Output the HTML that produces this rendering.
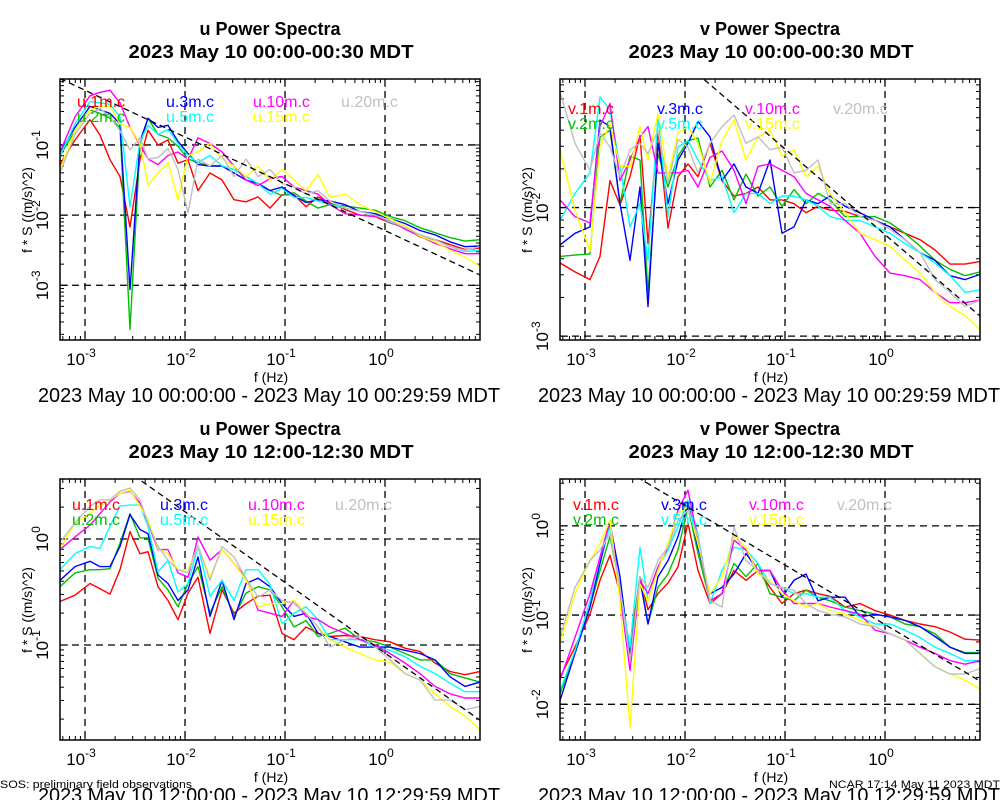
<!DOCTYPE html>
<html><head><meta charset="utf-8"><title>Power Spectra</title>
<style>
html,body{margin:0;padding:0;background:#fff;}
svg{display:block;font-family:"Liberation Sans",Arial,sans-serif;}
</style></head>
<body>
<svg id="fig" width="1000" height="800" viewBox="0 0 1000 800" xmlns="http://www.w3.org/2000/svg"></svg>
<script>
// ---- shared data ----
const logFreq = [-3.25,-3.10,-2.95,-2.85,-2.75,-2.65,-2.55,-2.45,-2.37,-2.27,-2.17,-2.07,-1.97,-1.87,-1.75,-1.63,-1.51,-1.39,-1.27,-1.15,-1.03,-0.91,-0.79,-0.67,-0.55,-0.40,-0.25,-0.10,0.05,0.20,0.35,0.50,0.65,0.80,0.95];
const heights = ["1m","2m","3m","5m","10m","15m","20m"];
const seriesKeys = ["1m","2m","3m","5m","10m","15m","20m"];
const seriesColors = {"1m":"#ff0000","2m":"#00c000","3m":"#0000ff","5m":"#00ffff","10m":"#ff00ff","15m":"#ffff00","20m":"#c0c0c0"};
const drawOrder = ["1m","2m","3m","5m","10m","15m","20m"];

// top-left: u 00:00-00:30 (log10 of f*S)
const uAm_1m  = [-1.28,-0.93,-0.64,-0.86,-1.21,-1.45,-2.17,-1.21,-0.79,-1.0,-0.93,-1.26,-1.21,-1.65,-1.4,-1.5,-1.78,-1.81,-1.74,-1.9,-1.71,-1.71,-1.88,-1.74,-1.83,-1.92,-2.0,-2.02,-2.11,-2.18,-2.31,-2.35,-2.42,-2.49,-2.47];
const uAm_2m  = [-1.15,-0.8,-0.5,-0.55,-0.62,-0.75,-3.63,-1.0,-0.62,-0.85,-0.9,-1.02,-1.2,-1.25,-1.3,-1.3,-1.35,-1.45,-1.55,-1.65,-1.72,-1.68,-1.8,-1.9,-1.85,-1.87,-1.9,-1.93,-2.02,-2.08,-2.18,-2.25,-2.32,-2.37,-2.35];
const uAm_3m  = [-1.1,-0.75,-0.45,-0.5,-0.55,-0.7,-3.06,-0.95,-0.62,-0.75,-0.72,-0.95,-1.12,-1.28,-1.3,-1.3,-1.4,-1.5,-1.55,-1.65,-1.6,-1.72,-1.82,-1.78,-1.8,-1.85,-1.95,-1.98,-2.05,-2.12,-2.22,-2.28,-2.38,-2.45,-2.44];
const uAm_5m  = [-1.15,-0.7,-0.38,-0.4,-0.42,-0.6,-1.88,-0.95,-0.72,-0.85,-0.78,-0.98,-1.15,-1.25,-1.15,-1.3,-1.35,-1.45,-1.55,-1.7,-1.62,-1.75,-1.75,-1.8,-1.85,-1.9,-1.95,-2.0,-2.1,-2.18,-2.28,-2.35,-2.45,-2.52,-2.5];
const uAm_10m = [-1.1,-0.6,-0.3,-0.25,-0.22,-0.4,-0.75,-1.0,-1.2,-1.28,-1.15,-1.1,-1.2,-0.9,-0.98,-1.1,-1.3,-1.5,-1.58,-1.48,-1.45,-1.6,-1.65,-1.7,-1.85,-1.98,-2.0,-2.02,-2.08,-2.2,-2.3,-2.4,-2.48,-2.55,-2.55];
const uAm_15m = [-1.35,-0.8,-0.5,-0.45,-0.45,-0.7,-0.75,-0.98,-1.57,-1.4,-1.25,-1.78,-1.15,-1.1,-0.98,-1.2,-1.3,-1.45,-1.3,-1.5,-1.35,-1.5,-1.65,-1.42,-1.75,-1.7,-1.85,-1.95,-2.05,-2.15,-2.3,-2.38,-2.5,-2.6,-2.73];
const uAm_20m = [-1.4,-0.85,-0.55,-0.48,-0.6,-0.8,-1.07,-0.9,-1.2,-1.18,-1.05,-1.35,-1.97,-1.2,-1.3,-1.15,-1.45,-1.2,-1.45,-1.35,-1.55,-1.6,-1.7,-1.65,-1.8,-1.9,-1.95,-2.0,-2.08,-2.18,-2.28,-2.35,-2.45,-2.5,-2.45];

// top-right: v 00:00-00:30
const vAm_1m  = [-2.43,-2.50,-2.56,-2.38,-1.79,-1.98,-1.76,-1.44,-2.28,-1.40,-2.16,-1.76,-1.66,-1.76,-1.50,-1.79,-1.91,-1.89,-1.84,-1.94,-1.94,-1.97,-2.04,-1.99,-2.02,-2.03,-2.07,-2.10,-2.15,-2.20,-2.25,-2.33,-2.44,-2.44,-2.42];
const vAm_2m  = [-2.38,-2.37,-2.36,-1.45,-1.40,-1.97,-1.60,-1.63,-2.66,-1.58,-1.84,-1.60,-1.48,-1.46,-1.84,-1.71,-1.94,-1.74,-1.91,-1.84,-1.99,-1.86,-1.97,-1.89,-1.94,-2.07,-2.07,-2.07,-2.12,-2.20,-2.30,-2.41,-2.48,-2.53,-2.50];
const vAm_3m  = [-2.29,-2.20,-2.15,-1.32,-1.37,-1.97,-2.41,-1.84,-2.77,-1.50,-1.97,-1.63,-1.50,-1.33,-1.45,-1.79,-1.66,-1.84,-1.89,-1.63,-2.20,-2.15,-1.94,-1.97,-1.91,-1.99,-2.04,-2.10,-2.15,-2.25,-2.35,-2.41,-2.53,-2.56,-2.52];
const vAm_5m  = [-2.10,-1.89,-1.73,-1.14,-1.24,-1.68,-2.15,-1.97,-2.41,-1.29,-2.07,-1.53,-1.48,-1.63,-1.79,-1.76,-2.04,-1.89,-1.89,-1.97,-1.91,-1.91,-1.94,-1.99,-2.07,-2.10,-2.10,-2.15,-2.20,-2.28,-2.35,-2.43,-2.53,-2.66,-2.64];
const vAm_10m = [-1.94,-2.07,-2.12,-1.37,-1.19,-1.79,-1.63,-1.45,-1.37,-1.73,-1.73,-1.73,-1.71,-1.84,-1.61,-1.56,-1.71,-1.97,-1.68,-1.66,-1.71,-1.76,-1.89,-1.94,-1.99,-2.10,-2.20,-2.38,-2.51,-2.53,-2.56,-2.66,-2.74,-2.74,-2.72];
const vAm_15m = [-1.55,-2.02,-2.34,-1.53,-1.35,-1.68,-1.68,-1.37,-1.63,-1.27,-1.76,-1.42,-1.37,-1.50,-1.81,-1.48,-1.32,-1.63,-1.45,-1.40,-1.60,-1.55,-1.76,-1.68,-1.89,-2.04,-2.20,-2.25,-2.30,-2.41,-2.51,-2.66,-2.77,-2.84,-2.95];
const vAm_20m = [-1.10,-1.50,-1.71,-1.42,-1.53,-1.76,-1.55,-1.50,-1.58,-1.40,-1.81,-1.47,-1.53,-1.73,-1.50,-1.37,-1.28,-1.50,-1.45,-1.55,-1.53,-1.73,-1.71,-1.63,-1.97,-1.97,-2.07,-2.10,-2.17,-2.25,-2.35,-2.56,-2.66,-2.77,-2.72];

// bottom-left: u 12:00-12:30
const uPm_1m  = [-0.59,-0.53,-0.42,-0.47,-0.52,-0.29,0.07,-0.14,-0.12,-0.45,-0.58,-0.76,-0.51,-0.36,-0.89,-0.48,-0.70,-0.61,-0.54,-0.53,-0.89,-0.95,-0.83,-0.89,-0.92,-0.91,-0.92,-0.95,-0.97,-1.03,-1.06,-1.17,-1.25,-1.28,-1.25];
const uPm_2m  = [-0.45,-0.32,-0.29,-0.29,-0.28,-0.04,0.24,0.01,0.01,-0.37,-0.48,-0.64,-0.42,-0.26,-0.70,-0.45,-0.73,-0.51,-0.45,-0.48,-0.64,-0.83,-0.77,-0.92,-0.89,-0.84,-0.95,-0.97,-1.02,-1.08,-1.14,-1.14,-1.27,-1.31,-1.35];
const uPm_3m  = [-0.39,-0.26,-0.21,-0.26,-0.26,-0.07,0.23,0.09,0.05,-0.34,-0.42,-0.58,-0.48,-0.17,-0.73,-0.39,-0.76,-0.42,-0.37,-0.45,-0.61,-0.73,-0.70,-0.89,-0.92,-0.97,-1.02,-1.02,-1.02,-1.05,-1.08,-1.14,-1.30,-1.39,-1.35];
const uPm_5m  = [-0.29,-0.14,-0.07,-0.09,0.12,0.31,0.32,0.32,0.12,-0.31,-0.20,-0.50,-0.42,-0.07,-0.54,-0.39,-0.58,-0.29,-0.29,-0.43,-0.80,-0.70,-0.64,-0.76,-0.95,-0.95,-0.95,-1.02,-1.05,-1.11,-1.20,-1.27,-1.36,-1.44,-1.44];
const uPm_10m = [-0.10,0.02,0.13,0.24,0.35,0.43,0.45,0.34,0.15,-0.10,-0.10,-0.32,-0.36,0.02,-0.20,-0.10,-0.23,-0.37,-0.67,-0.70,-0.73,-0.58,-0.73,-0.76,-0.83,-0.89,-0.95,-1.00,-1.08,-1.17,-1.27,-1.39,-1.46,-1.50,-1.50];
const uPm_15m = [-0.09,0.15,0.24,0.32,0.37,0.43,0.46,0.31,0.18,-0.09,-0.14,-0.29,-0.29,-0.07,-0.36,-0.10,-0.23,-0.39,-0.64,-0.61,-0.61,-0.58,-0.70,-0.83,-0.95,-1.02,-1.08,-1.14,-1.16,-1.27,-1.33,-1.46,-1.58,-1.67,-1.80];
const uPm_20m = [-0.03,0.15,0.31,0.37,0.37,0.45,0.48,0.37,0.15,-0.07,-0.20,-0.29,-0.32,-0.06,-0.39,-0.07,-0.17,-0.37,-0.55,-0.48,-0.58,-0.61,-0.70,-0.83,-1.02,-0.95,-0.92,-1.02,-1.14,-1.27,-1.33,-1.52,-1.52,-1.61,-1.58];

// bottom-right: v 12:00-12:30
const vPm_1m  = [-1.70,-1.36,-0.99,-0.61,-0.33,-0.76,-1.36,-0.57,-0.94,-0.76,-0.64,-0.46,0.03,-0.50,-0.87,-0.76,-0.50,-0.61,-0.50,-0.69,-0.87,-0.76,-0.72,-0.76,-0.79,-0.91,-0.87,-0.95,-1.00,-1.06,-1.10,-1.13,-1.19,-1.27,-1.28];
const vPm_2m  = [-1.88,-1.43,-0.91,-0.50,-0.12,-0.69,-1.43,-0.57,-1.10,-0.69,-0.54,-0.27,0.21,-0.31,-0.84,-0.76,-0.42,-0.57,-0.42,-0.76,-0.80,-0.84,-0.72,-0.80,-0.84,-0.91,-0.95,-0.99,-1.02,-1.10,-1.13,-1.21,-1.36,-1.42,-1.42];
const vPm_3m  = [-1.96,-1.43,-0.91,-0.42,0.03,-0.57,-1.47,-0.61,-1.10,-0.57,-0.39,-0.12,0.25,-0.24,-0.76,-0.69,-0.54,-0.31,-0.50,-0.50,-0.80,-0.61,-0.54,-0.84,-0.80,-0.80,-1.02,-0.99,-1.02,-1.06,-1.13,-1.24,-1.36,-1.43,-1.43];
const vPm_5m  = [-1.85,-1.40,-0.84,-0.35,-0.01,-0.72,-1.36,-0.24,-0.84,-0.46,-0.27,-0.01,0.29,-0.09,-0.87,-0.50,-0.24,-0.27,-0.42,-0.65,-0.69,-0.76,-0.76,-0.80,-0.80,-0.95,-1.02,-1.10,-1.10,-1.17,-1.25,-1.36,-1.43,-1.51,-1.51];
const vPm_10m = [-1.73,-1.25,-0.76,-0.35,0.06,-0.76,-1.62,-0.61,-0.76,-0.46,-0.24,0.18,0.40,-0.16,-0.84,-0.76,-0.16,-0.27,-0.50,-0.50,-0.72,-0.87,-0.87,-0.87,-0.91,-0.95,-0.99,-1.17,-1.21,-1.28,-1.36,-1.43,-1.51,-1.55,-1.51];
const vPm_15m = [-1.32,-0.76,-0.39,-0.20,0.06,-0.84,-2.26,-0.65,-0.84,-0.50,-0.20,0.14,0.21,-0.20,-0.76,-0.57,-0.12,-0.24,-0.54,-0.61,-0.76,-0.84,-0.91,-0.87,-0.95,-0.99,-1.06,-1.13,-1.21,-1.28,-1.43,-1.58,-1.66,-1.73,-1.83];
const vPm_20m = [-1.25,-0.69,-0.39,-0.27,-0.09,-0.69,-1.51,-0.57,-0.69,-0.39,-0.24,0.06,0.18,-0.12,-0.84,-0.91,-0.01,-0.39,-0.50,-0.65,-0.69,-0.72,-0.87,-0.95,-0.99,-1.02,-1.10,-1.13,-1.21,-1.28,-1.43,-1.58,-1.66,-1.66,-1.60];

// reference -2/3 slope line: log10 value at f = 1 Hz
const refAtOneHz = [-2.22, -2.21, -1.076, -1.106];
const refSlope = -2/3;
const xDecades = [-3, -2, -1, 0];
const yDecadesTL = [-1, -2, -3];
const yDecadesTR = [-2, -3];
const yDecadesBL = [0, -1];
const yDecadesBR = [0, -1, -2];
const titlesTop = ["u Power Spectra", "v Power Spectra", "u Power Spectra", "v Power Spectra"];
const titlesSub = ["2023 May 10 00:00-00:30 MDT", "2023 May 10 00:00-00:30 MDT", "2023 May 10 12:00-12:30 MDT", "2023 May 10 12:00-12:30 MDT"];
const dateLines = ["2023 May 10 00:00:00 - 2023 May 10 00:29:59 MDT", "2023 May 10 00:00:00 - 2023 May 10 00:29:59 MDT", "2023 May 10 12:00:00 - 2023 May 10 12:29:59 MDT", "2023 May 10 12:00:00 - 2023 May 10 12:29:59 MDT"];

const NS = "http://www.w3.org/2000/svg";
const svg = document.getElementById("fig");
function mk(tag, attrs, parent) {
  const e = document.createElementNS(NS, tag);
  for (const k in attrs) e.setAttribute(k, attrs[k]);
  (parent || svg).appendChild(e);
  return e;
}

const panels = [
  {comp:"u", name:"u-am", dx:0,   y0:79,  y1:340, ymin:-3.78, ymax:-0.06, yd:yDecadesTL, data:{"1m":uAm_1m,"2m":uAm_2m,"3m":uAm_3m,"5m":uAm_5m,"10m":uAm_10m,"15m":uAm_15m,"20m":uAm_20m}, leg:{x:[77,166,253,341], y:[107,122]}},
  {comp:"v", name:"v-am", dx:500, y0:79,  y1:340, ymin:-3.03, ymax:-1.0,  yd:yDecadesTR, data:{"1m":vAm_1m,"2m":vAm_2m,"3m":vAm_3m,"5m":vAm_5m,"10m":vAm_10m,"15m":vAm_15m,"20m":vAm_20m}, leg:{x:[68,157,245,333], y:[114,129]}},
  {comp:"u", name:"u-pm", dx:0,   y0:479, y1:740, ymin:-1.896,ymax:0.566, yd:yDecadesBL, data:{"1m":uPm_1m,"2m":uPm_2m,"3m":uPm_3m,"5m":uPm_5m,"10m":uPm_10m,"15m":uPm_15m,"20m":uPm_20m}, leg:{x:[72,160,248,335], y:[510,525]}},
  {comp:"v", name:"v-pm", dx:500, y0:479, y1:740, ymin:-2.40, ymax:0.525, yd:yDecadesBR, data:{"1m":vPm_1m,"2m":vPm_2m,"3m":vPm_3m,"5m":vPm_5m,"10m":vPm_10m,"15m":vPm_15m,"20m":vPm_20m}, leg:{x:[73,161,249,337], y:[510,525]}}
];
const XMIN = -3.25, XMAX = 0.95;
// legend layout: [key, col, row]
const legendLayout = [["1m",0,0],["2m",0,1],["3m",1,0],["5m",1,1],["10m",2,0],["15m",2,1],["20m",3,0]];

panels.forEach((p, pi) => {
  const X0 = 60 + p.dx, X1 = 480 + p.dx;
  const sx = lf => X0 + (lf - XMIN) / (XMAX - XMIN) * (X1 - X0);
  const sy = lv => p.y1 - (lv - p.ymin) / (p.ymax - p.ymin) * (p.y1 - p.y0);
  const g = mk("g", {});
  
  
  const cx = 270 + p.dx;
  const topOff = p.y0 - 79;

  const t1 = mk("text", {x:cx, y:35+topOff, "text-anchor":"middle", "font-size":"18", "font-weight":"bold"}, g);
  t1.textContent = titlesTop[pi];
  
  
  const t2 = mk("text", {x:cx+1, y:58+topOff, "text-anchor":"middle", "font-size":"18", "font-weight":"bold", textLength:"285", lengthAdjust:"spacingAndGlyphs"}, g);
  t2.textContent = titlesSub[pi];
  
  

  const clipId = "clip" + pi;
  const cp = mk("clipPath", {id:clipId}, g);
  mk("rect", {x:X0, y:p.y0, width:X1-X0, height:p.y1-p.y0}, cp);

  // grid
  const grid = mk("g", {stroke:"#000", "stroke-width":"1.3", "stroke-dasharray":"7,5", fill:"none"}, g);
  
  
  xDecades.forEach(d => { const x = sx(d); mk("line", {x1:x, x2:x, y1:p.y0, y2:p.y1}, grid); });
  p.yd.forEach(d => { const y = sy(d); mk("line", {x1:X0, x2:X1, y1:y, y2:y}, grid); });

  // ticks
  const ticks = mk("g", {stroke:"#000", "stroke-width":"1"}, g);
  
  
  for (let d = -4; d <= 1; d++) for (let k = 1; k <= 9; k++) {
    const lf = d + Math.log10(k);
    if (lf < XMIN || lf > XMAX) continue;
    const x = sx(lf), L = k === 1 ? 8 : 4;
    mk("line", {x1:x, x2:x, y1:p.y1, y2:p.y1-L}, ticks);
    mk("line", {x1:x, x2:x, y1:p.y0, y2:p.y0+L}, ticks);
  }
  for (let d = Math.floor(p.ymin); d <= Math.ceil(p.ymax); d++) for (let k = 1; k <= 9; k++) {
    const lv = d + Math.log10(k);
    if (lv < p.ymin || lv > p.ymax) continue;
    const y = sy(lv), L = k === 1 ? 8 : 4;
    mk("line", {x1:X0, x2:X0+L, y1:y, y2:y}, ticks);
    mk("line", {x1:X1, x2:X1-L, y1:y, y2:y}, ticks);
  }

  // x tick labels
  xDecades.forEach(d => {
    const t = mk("text", {x:sx(d)-4, y:p.y1+25, "text-anchor":"middle", "font-size":"17"}, g);
    
    
    const a = mk("tspan", {}, t); a.textContent = "10";
    const b = mk("tspan", {dy:"-8", "font-size":"12"}, t); b.textContent = String(d);
  });
  const xl = mk("text", {x:cx+1, y:p.y1+42, "text-anchor":"middle", "font-size":"14"}, g);
  xl.textContent = "f (Hz)";
  
  
  const dl = mk("text", {x:cx-1, y:p.y1+62, "text-anchor":"middle", "font-size":"20", textLength:"462", lengthAdjust:"spacingAndGlyphs"}, g);
  dl.textContent = dateLines[pi];
  
  

  // y tick labels (rotated)
  p.yd.forEach(d => {
    const y = sy(d);
    const t = mk("text", {transform:"translate(" + (X0-12) + "," + (y) + ") rotate(-90)", "text-anchor":"middle", "font-size":"17"}, g);
    
    
    const a = mk("tspan", {}, t); a.textContent = "10";
    const b = mk("tspan", {dy:"-8", "font-size":"12"}, t); b.textContent = String(d);
  });
  const yl = mk("text", {transform:"translate(" + (X0-28) + "," + (p.y0+131) + ") rotate(-90)", "text-anchor":"middle", "font-size":"14"}, g);
  yl.textContent = "f * S ((m/s)^2)";
  
  

  // series
  const plot = mk("g", {"clip-path":"url(#" + clipId + ")", fill:"none", "stroke-width":"1.4", "stroke-linejoin":"round"}, g);
  
  
  drawOrder.forEach(key => {
    const vals = p.data[key];
    const pts = vals.map((v, i) => sx(logFreq[i]).toFixed(1) + "," + sy(v).toFixed(1)).join(" ");
    const pl = mk("polyline", {points:pts, stroke:seriesColors[key]}, plot);
    
    
  });
  // reference line
  const r0 = refAtOneHz[pi] + refSlope * XMIN, r1 = refAtOneHz[pi] + refSlope * XMAX;
  const ref = mk("line", {x1:sx(XMIN), y1:sy(r0), x2:sx(XMAX), y2:sy(r1), stroke:"#000", "stroke-width":"1.3", "stroke-dasharray":"6,4"}, plot);
  
  

  // legend
  legendLayout.forEach(([key, col, row]) => {
    const t = mk("text", {x:p.leg.x[col] + p.dx, y:p.leg.y[row], "font-size":"16", fill:seriesColors[key]}, g);
    t.textContent = p.comp + "." + key + ".c";
    
    
  });

  // frame
  const fr = mk("rect", {x:X0, y:p.y0, width:X1-X0, height:p.y1-p.y0, fill:"none", stroke:"#000", "stroke-width":"1.5"}, g);
  
  
});

const f1 = mk("text", {x:0, y:788, "font-size":"11", textLength:"192", lengthAdjust:"spacingAndGlyphs"});
f1.textContent = "SOS: preliminary field observations";


const f2 = mk("text", {x:1000, y:788, "font-size":"11", "text-anchor":"end", textLength:"171", lengthAdjust:"spacingAndGlyphs"});
f2.textContent = "NCAR 17:14 May 11 2023 MDT";


</script>
</body></html>
